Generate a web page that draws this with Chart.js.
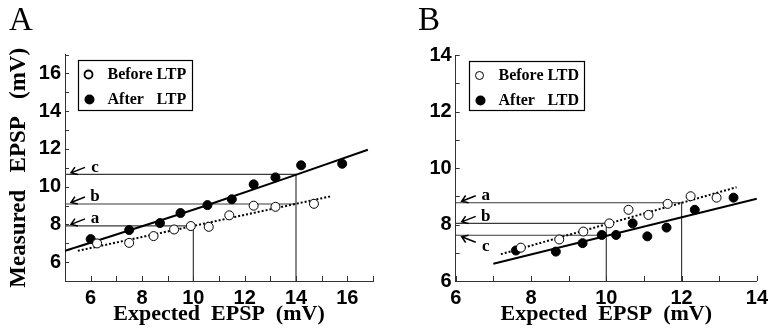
<!DOCTYPE html>
<html>
<head>
<meta charset="utf-8">
<script src="https://cdn.jsdelivr.net/npm/chart.js@4.4.1/dist/chart.umd.min.js"></script>
<style>
  body { margin: 0; background: #fff; }
  #page { position: relative; width: 773px; height: 332px; overflow: hidden; }
  .wrap { position: absolute; top: 0; height: 332px; }
  #wrapA { left: 0; width: 386px; }
  #wrapB { left: 386px; width: 387px; }
</style>
</head>
<body>
<div id="page">
  <div class="wrap" id="wrapA"><canvas id="chartA"></canvas></div>
  <div class="wrap" id="wrapB"><canvas id="chartB"></canvas></div>
</div>
<script>
// ---- panel A (LTP) ----
const beforeLtpX = [6.25, 7.5, 8.45, 9.25, 9.9, 10.6, 11.4, 12.35, 13.2, 14.7];
const beforeLtpY = [6.99, 7.02, 7.38, 7.73, 7.91, 7.87, 8.48, 8.99, 8.93, 9.09];
const afterLtpX = [6.0, 7.5, 8.7, 9.5, 10.55, 11.5, 12.35, 13.2, 14.2, 15.8];
const afterLtpY = [7.22, 7.7, 8.07, 8.6, 9.02, 9.33, 10.12, 10.49, 11.13, 11.21];
const fitBeforeLtpX = [5.5, 15.4];
const fitBeforeLtpY = [6.6, 9.5];
const fitAfterLtpX = [5, 10.5, 16.8];
const fitAfterLtpY = [6.6, 9.0, 11.95];
const refLtpC_X = [5, 14, 14], refLtpC_Y = [10.65, 10.65, 5];
const refLtpB_X = [5, 14], refLtpB_Y = [9.08, 9.08];
const refLtpA_X = [5, 10, 10], refLtpA_Y = [7.92, 7.92, 5];
const ticksAX = [6, 8, 10, 12, 14, 16];
const ticksAY = [6, 8, 10, 12, 14, 16];

// ---- panel B (LTD) ----
const beforeLtdX = [7.73, 8.75, 9.39, 10.08, 10.59, 11.12, 11.63, 12.24, 12.93];
const beforeLtdY = [7.18, 7.47, 7.75, 8.04, 8.52, 8.34, 8.73, 9.0, 8.95];
const afterLtdX = [7.6, 8.66, 9.37, 9.88, 10.26, 10.7, 11.09, 11.6, 12.35, 13.38];
const afterLtdY = [7.08, 7.04, 7.34, 7.63, 7.63, 8.04, 7.58, 7.89, 8.52, 8.95];
const fitBeforeLtdX = [7.2, 13.46];
const fitBeforeLtdY = [6.95, 9.32];
const fitAfterLtdX = [7.0, 14.0];
const fitAfterLtdY = [6.61, 8.91];
const refLtdA_X = [6, 12, 12], refLtdA_Y = [8.77, 8.77, 6];
const refLtdB_X = [6, 10, 10], refLtdB_Y = [8.04, 8.04, 6];
const refLtdC_X = [6, 10], refLtdC_Y = [7.62, 7.62];
const ticksBX = [6, 8, 10, 12, 14];
const ticksBY = [6, 8, 10, 12, 14];

const SERIF = '"Liberation Serif", "Times New Roman", serif';
const SANS = '"Liberation Sans", Arial, sans-serif';

function pts(xs, ys) {
  return xs.map((x, i) => ({x: x, y: ys[i]}));
}

function openPoints(label, xs, ys) {
  return {label: label, data: pts(xs, ys), showLine: false, legend: true, open: true,
    pointRadius: 4.5, pointBorderWidth: 1, pointBorderColor: '#000', pointBackgroundColor: '#fff'};
}
function filledPoints(label, xs, ys) {
  return {label: label, data: pts(xs, ys), showLine: false, legend: true,
    pointRadius: 4.5, pointBorderWidth: 1, pointBorderColor: '#000', pointBackgroundColor: '#000'};
}
function fitLine(xs, ys, dotted, tension) {
  return {data: pts(xs, ys), showLine: true, pointRadius: 0, borderColor: '#000',
    borderWidth: 2, borderDash: dotted ? [2, 2] : [], tension: tension || 0};
}
function refLine(xs, ys) {
  return {data: pts(xs, ys), showLine: true, pointRadius: 0, borderColor: '#3a3a3a', borderWidth: 1.2};
}

// inward ticks, boxed legend, arrows + letters, panel letter
const decor = {
  id: 'decor',
  afterDraw(chart, args, o) {
    const ctx = chart.ctx, ca = chart.chartArea, sx = chart.scales.x, sy = chart.scales.y;
    ctx.save();
    ctx.strokeStyle = '#333';
    ctx.lineWidth = 1;
    ctx.beginPath();
    for (let v = Math.ceil(sx.min); v <= sx.max; v++) {
      const px = Math.round(sx.getPixelForValue(v)) + 0.5;
      ctx.moveTo(px, ca.bottom); ctx.lineTo(px, ca.bottom - 5);
    }
    for (let v = Math.ceil(sy.min); v <= sy.max; v++) {
      const py = Math.round(sy.getPixelForValue(v)) + 0.5;
      ctx.moveTo(ca.left, py); ctx.lineTo(ca.left + 4, py);
    }
    ctx.stroke();

    // legend
    const lb = o.legendBox;
    const bx = Math.round(ca.left + lb.dx) + 0.5, by = Math.round(ca.top + lb.dy) + 0.5;
    ctx.strokeStyle = '#000';
    ctx.lineWidth = 1.2;
    ctx.strokeRect(bx, by, lb.w, lb.h);
    ctx.font = 'bold 16px ' + SERIF;
    ctx.fillStyle = '#000';
    ctx.textBaseline = 'middle';
    const items = chart.data.datasets.filter(d => d.legend);
    items.forEach((d, i) => {
      const cy = by + 14 + i * 25;
      ctx.beginPath();
      if (d.open) {
        ctx.arc(bx + 10, cy, 4, 0, Math.PI * 2);
        ctx.lineWidth = o.openWidth;
        ctx.stroke();
      } else {
        ctx.arc(bx + 11, cy, 5, 0, Math.PI * 2);
        ctx.fill();
      }
      const words = d.label.split(' ');
      ctx.textAlign = 'left';
      ctx.fillText(words[0], bx + 29, cy);
      ctx.fillText(words[1], bx + 78, cy);
    });

    // arrows pointing at the reference levels
    ctx.lineWidth = 1.5;
    ctx.font = 'bold 17px ' + SERIF;
    o.arrows.forEach(a => {
      const py = sy.getPixelForValue(a.value);
      const tipX = ca.left + 6;
      const tipY = a.up ? py + 1.5 : py - 1.5;
      const tailX = tipX + 14;
      const tailY = a.up ? tipY + 5.5 : tipY - 5.5;
      const ang = Math.atan2(tailY - tipY, tailX - tipX);
      ctx.beginPath();
      ctx.moveTo(tailX, tailY); ctx.lineTo(tipX, tipY);
      ctx.moveTo(tipX + 7 * Math.cos(ang - 0.6), tipY + 7 * Math.sin(ang - 0.6));
      ctx.lineTo(tipX, tipY);
      ctx.lineTo(tipX + 7 * Math.cos(ang + 0.6), tipY + 7 * Math.sin(ang + 0.6));
      ctx.stroke();
      ctx.textAlign = 'center';
      ctx.fillText(a.label, ca.left + 30, a.up ? py + 11 : py - 7);
    });

    // panel letter
    ctx.font = '33px ' + SERIF;
    ctx.textAlign = 'left';
    ctx.textBaseline = 'alphabetic';
    ctx.fillText(o.letter, o.letterX, 30);
    ctx.restore();
  }
};

function makeChart(id, datasets, p) {
  const ctx = document.getElementById(id).getContext('2d');
  return new Chart(ctx, {
    type: 'scatter',
    data: {datasets: datasets},
    plugins: [decor],
    options: {
      responsive: true,
      maintainAspectRatio: false,
      animation: false,
      events: [],
      layout: {padding: {top: p.padTop, right: p.padRight, left: 0, bottom: 0}},
      plugins: {
        legend: {display: false},
        tooltip: {enabled: false},
        decor: p.decor
      },
      scales: {
        x: {
          type: 'linear', min: p.xMin, max: p.xMax,
          grid: {display: false, drawTicks: false},
          border: {display: true, color: '#333', width: 1},
          ticks: {font: {family: SANS, size: 20, weight: 'bold'}, color: '#000', padding: 5, maxRotation: 0, autoSkip: false},
          afterBuildTicks: s => { s.ticks = p.xTicks.map(v => ({value: v})); },
          afterFit: s => { s.height = 51; },
          title: {display: true, text: 'Expected  EPSP  (mV)', color: '#000',
            font: {family: SERIF, size: 22, weight: 'bold'}, padding: {top: 0, bottom: 4}}
        },
        y: {
          type: 'linear', min: p.yMin, max: p.yMax,
          grid: {display: false, drawTicks: false},
          border: {display: true, color: '#333', width: 1},
          ticks: {font: {family: SANS, size: 20, weight: 'bold'}, color: '#000', padding: 4, autoSkip: false},
          afterBuildTicks: s => { s.ticks = p.yTicks.map(v => ({value: v})); },
          afterFit: s => { s.width = p.yWidth; },
          title: {display: !!p.yTitle, text: p.yTitle || '', color: '#000',
            font: {family: SERIF, size: 23, weight: 'bold'}, padding: {top: 5, bottom: 0}}
        }
      }
    }
  });
}

makeChart('chartA', [
  openPoints('Before LTP', beforeLtpX, beforeLtpY),
  filledPoints('After LTP', afterLtpX, afterLtpY),
  fitLine(fitAfterLtpX, fitAfterLtpY, false, 0.3),
  fitLine(fitBeforeLtpX, fitBeforeLtpY, true),
  refLine(refLtpC_X, refLtpC_Y),
  refLine(refLtpB_X, refLtpB_Y),
  refLine(refLtpA_X, refLtpA_Y)
], {
  xMin: 5, xMax: 17, yMin: 5, yMax: 17, xTicks: ticksAX, yTicks: ticksAY,
  padTop: 54.5, padRight: 13, yWidth: 65, yTitle: 'Measured   EPSP   (mV)',
  decor: {
    letter: 'A', letterX: 9, openWidth: 1.8,
    legendBox: {dx: 13, dy: 5, w: 114, h: 50},
    arrows: [
      {value: refLtpC_Y[0], label: 'c', up: false},
      {value: refLtpB_Y[0], label: 'b', up: false},
      {value: refLtpA_Y[0], label: 'a', up: false}
    ]
  }
});

makeChart('chartB', [
  openPoints('Before LTD', beforeLtdX, beforeLtdY),
  filledPoints('After LTD', afterLtdX, afterLtdY),
  fitLine(fitAfterLtdX, fitAfterLtdY, false),
  fitLine(fitBeforeLtdX, fitBeforeLtdY, true),
  refLine(refLtdA_X, refLtdA_Y),
  refLine(refLtdB_X, refLtdB_Y),
  refLine(refLtdC_X, refLtdC_Y)
], {
  xMin: 6, xMax: 14, yMin: 6, yMax: 14, xTicks: ticksBX, yTicks: ticksBY,
  padTop: 55, padRight: 10.7, yWidth: 69.7, yTitle: null,
  decor: {
    letter: 'B', letterX: 32, openWidth: 1,
    legendBox: {dx: 13, dy: 6, w: 115, h: 49},
    arrows: [
      {value: refLtdA_Y[0], label: 'a', up: false},
      {value: refLtdB_Y[0], label: 'b', up: false},
      {value: refLtdC_Y[0], label: 'c', up: true}
    ]
  }
});
</script>
</body>
</html>
